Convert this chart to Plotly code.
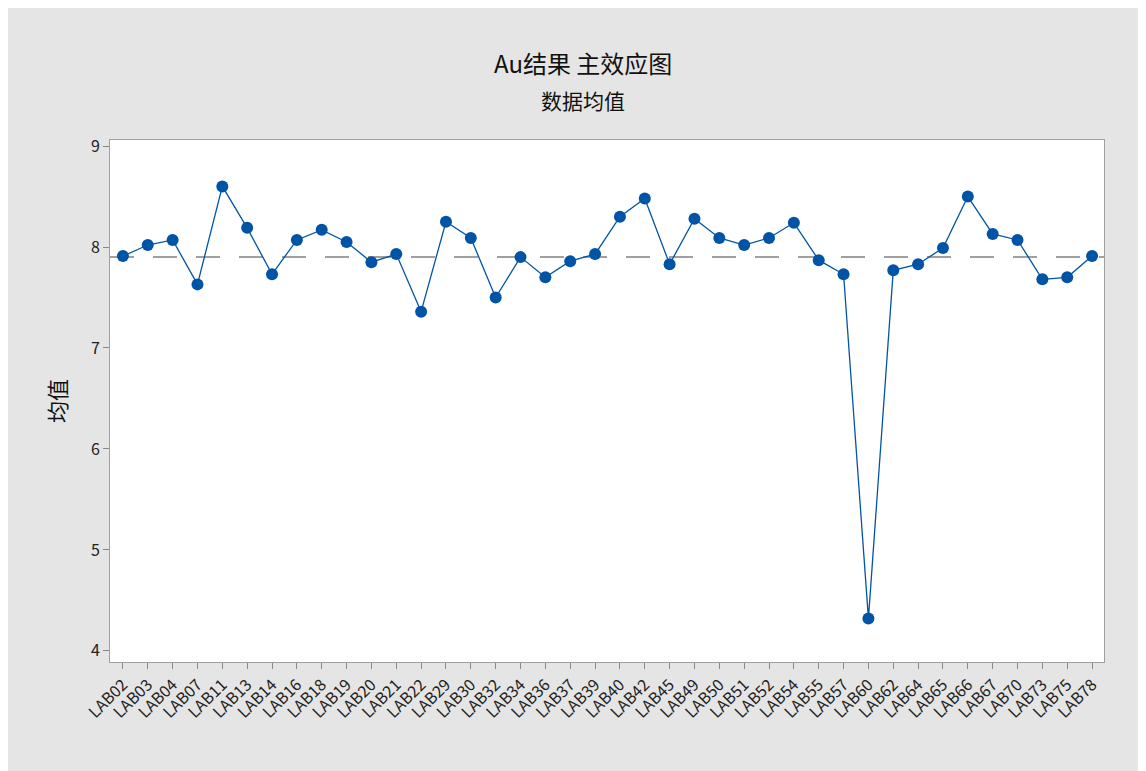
import plotly.graph_objects as go
import numpy as np

labs = ["LAB02","LAB03","LAB04","LAB07","LAB11","LAB13","LAB14","LAB16","LAB18","LAB19",
        "LAB20","LAB21","LAB22","LAB29","LAB30","LAB32","LAB34","LAB36","LAB37","LAB39",
        "LAB40","LAB42","LAB45","LAB49","LAB50","LAB51","LAB52","LAB54","LAB55","LAB57",
        "LAB60","LAB62","LAB64","LAB65","LAB66","LAB67","LAB70","LAB73","LAB75","LAB78"]
means = [7.91,8.02,8.07,7.63,8.60,8.19,7.73,8.07,8.17,8.05,
         7.85,7.93,7.36,8.25,8.09,7.50,7.90,7.70,7.86,7.93,
         8.30,8.48,7.83,8.28,8.09,8.02,8.09,8.24,7.87,7.73,
         4.32,7.77,7.83,7.99,8.50,8.13,8.07,7.68,7.70,7.91]
grand_mean = 7.90
y_ticks = [4,5,6,7,8,9]

FONT = "Noto Sans CJK SC, Noto Sans, sans-serif"
BLUE = "#0054a6"

W, H = 1146, 771
L, T, R, B = 102, 132, 50, 117
pw, ph = W - L - R, H - T - B

fig = go.Figure()
fig.add_trace(go.Scatter(
    x=list(range(len(labs))), y=means, mode="lines+markers",
    line=dict(color=BLUE, width=1.3),
    marker=dict(color=BLUE, size=12, symbol="circle"),
    showlegend=False, hoverinfo="y"))

fig.add_shape(type="line", xref="paper", yref="y", x0=0, x1=1, y0=grand_mean, y1=grand_mean,
              line=dict(color="#a0a0a0", width=2, dash="24px,19px"), layer="below")

fig.update_layout(
    width=W, height=H,
    paper_bgcolor="#e5e5e5", plot_bgcolor="white",
    margin=dict(l=L, r=R, t=T, b=B, autoexpand=False),
    font=dict(family=FONT, size=15, color="#222"),
    xaxis=dict(range=[-0.52, 39.48], tickmode="array", tickvals=list(range(len(labs))),
               ticktext=labs, tickangle=-45, ticks="outside", ticklen=6, tickcolor="#888",
               showgrid=False, zeroline=False, showline=True, linecolor="#a0a0a0", mirror=True,
               tickfont=dict(size=16, family=FONT, color="#222")),
    yaxis=dict(range=[3.89, 9.06], tickvals=y_ticks, ticks="outside", ticklen=6, tickcolor="#888",
               showgrid=False, zeroline=False, showline=True, linecolor="#a0a0a0", mirror=True,
               tickfont=dict(size=16, family=FONT, color="#222"),
               title=dict(text="均值", font=dict(size=22, family=FONT, color="#111"), standoff=18)),
    annotations=[
        dict(text="Au结果 主效应图", x=(575 - L) / pw, y=(H - B - 54) / ph, xref="paper", yref="paper",
             showarrow=False, yanchor="middle", font=dict(size=24, family=FONT, color="#111")),
        dict(text="数据均值", x=(575 - L) / pw, y=(H - B - 92) / ph, xref="paper", yref="paper",
             showarrow=False, yanchor="middle", font=dict(size=21, family=FONT, color="#111")),
    ],
)

fig.write_html("out.html")
